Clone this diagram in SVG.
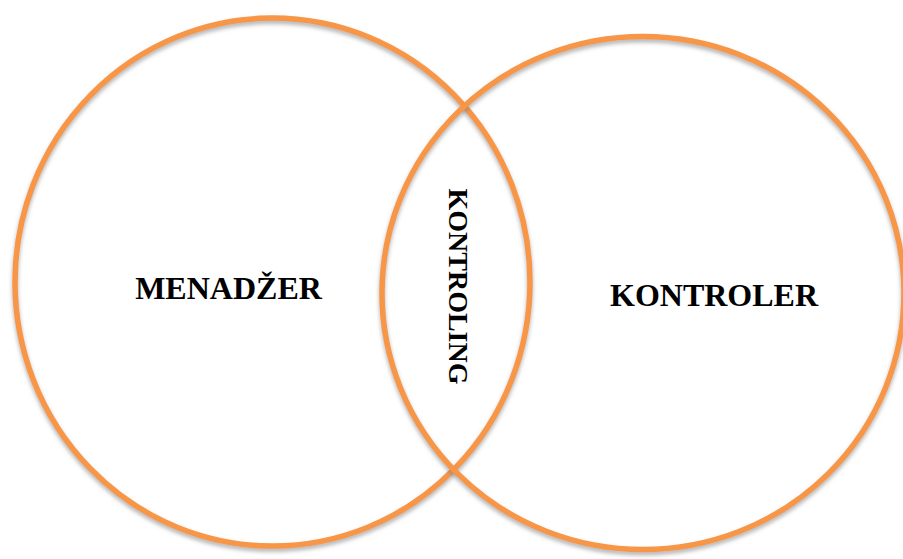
<svg xmlns="http://www.w3.org/2000/svg" width="903" height="559" viewBox="0 0 903 559">
<defs>
<filter id="sh" x="-10%" y="-10%" width="120%" height="125%">
<feDropShadow dx="0" dy="3" stdDeviation="2" flood-color="#7f7f7f" flood-opacity="0.6"/>
</filter>
</defs>
<style>
.ring{fill:none;stroke:#F79646;stroke-width:5.5;filter:url(#sh)}
.lbl{font-family:"Liberation Serif","Times New Roman",serif;font-weight:bold;fill:#000}
</style>
<rect width="903" height="559" fill="#fff"/>
<g id="menadzer">
<ellipse class="ring" cx="272.5" cy="282" rx="257.5" ry="264"/>
<text class="lbl" x="228.5" y="299" font-size="32" text-anchor="middle">MENADŽER</text>
</g>
<g id="kontroler">
<ellipse class="ring" cx="643" cy="293" rx="261" ry="256.5"/>
<text class="lbl" x="714" y="306" font-size="32" text-anchor="middle">KONTROLER</text>
</g>
<g id="kontroling">
<text class="lbl" transform="translate(449,286.5) rotate(90)" x="0" y="0" font-size="28" text-anchor="middle">KONTROLING</text>
</g>
<g id="connectors"></g>
</svg>
